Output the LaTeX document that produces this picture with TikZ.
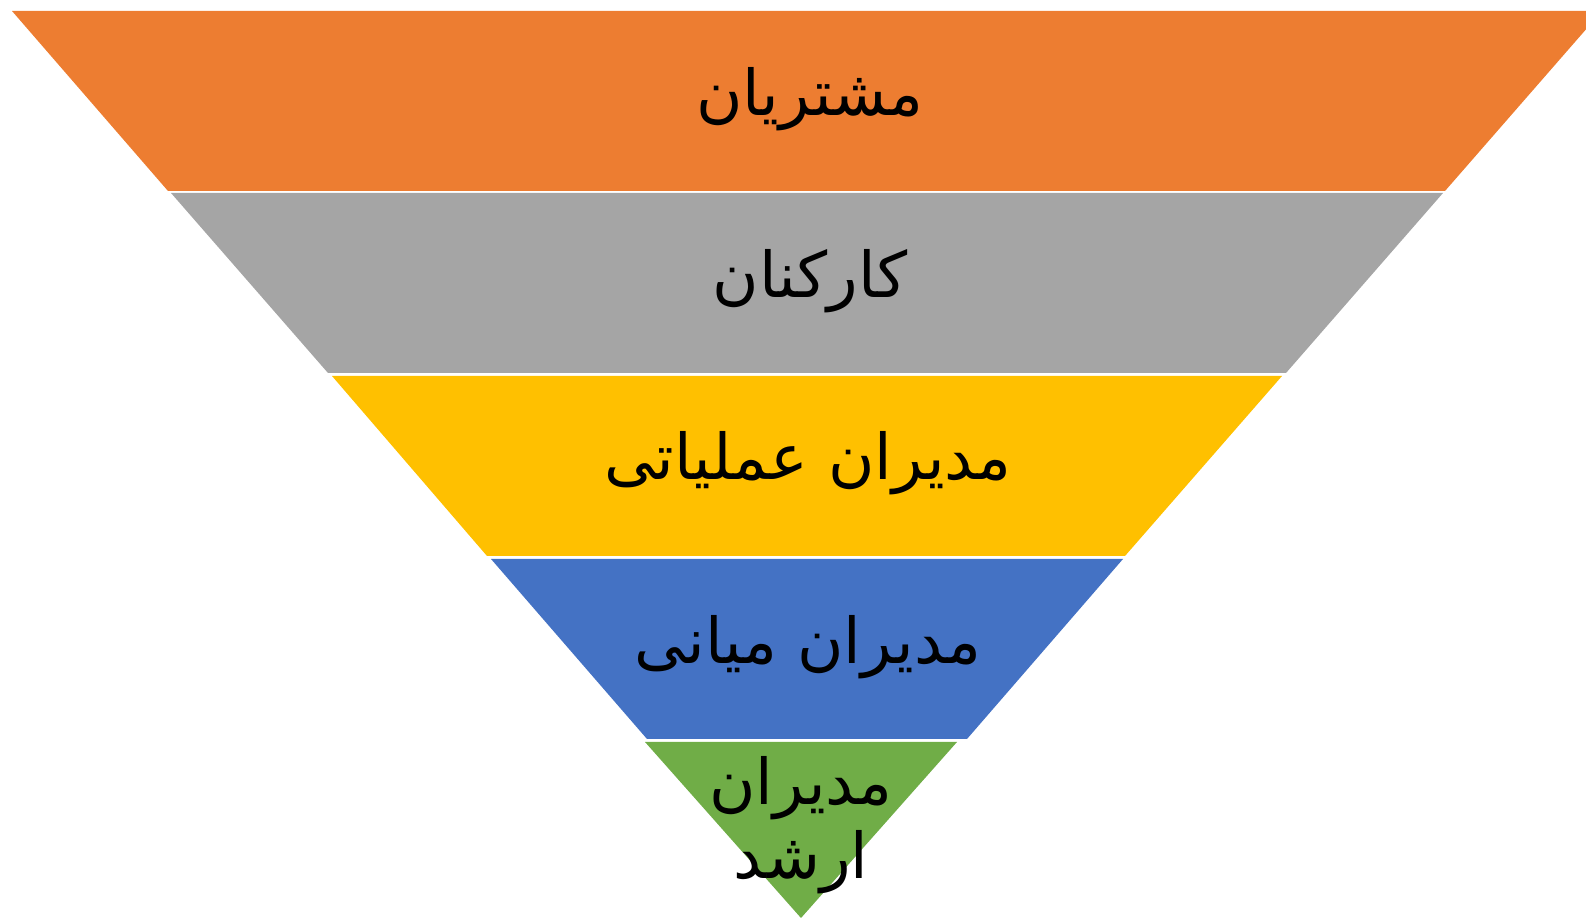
\documentclass[tikz,border=0pt]{standalone}
\usepackage{fontspec}
\usepackage{tikz}
\TeXXeTstate=1
\newfontfamily\arabicfont[Script=Arabic]{DejaVu Sans}

\definecolor{tierorange}{HTML}{ED7D31}
\definecolor{tiergray}{HTML}{A5A5A5}
\definecolor{tiergold}{HTML}{FFC000}
\definecolor{tierblue}{HTML}{4472C4}
\definecolor{tiergreen}{HTML}{70AD47}

\begin{document}
\begin{tikzpicture}[
    x=0.1mm, y=-0.1mm,
    band/.style={draw=none},
    word/.style={font=\arabicfont\fontsize{18}{21}\selectfont, text=black, align=center, inner sep=0pt},
]
\useasboundingbox (0,0) rectangle (1586,918);
\clip (0,0) rectangle (1586,918);

% Bands (top to bottom)
\fill[band, tierorange] (12,11) -- (1602,11) -- (1445,191) -- (168,191) -- cycle;
\fill[band, tiergray] (171,193) -- (1443,193) -- (1286,373) -- (328,373) -- cycle;
\fill[band, tiergold] (332,376) -- (1282,376) -- (1125,556) -- (487,556) -- cycle;
\fill[band, tierblue] (491,559) -- (1123,559) -- (967,739) -- (647,739) -- cycle;
\fill[band, tiergreen] (645,742) -- (957,742) -- (801,918) -- cycle;

% Labels
\node[word] (customers) at (810,99) {\beginR مشتریان\endR};
\node[word] (staff) at (810,281) {\beginR کارکنان\endR};
\node[word] (opmgr) at (808,463) {\beginR مدیران عملیاتی\endR};
\node[word] (midmgr) at (808,647) {\beginR مدیران میانی\endR};
\node[word] (topmgr) at (801,825) {\beginR مدیران\endR\\\beginR ارشد\endR};

\end{tikzpicture}
\end{document}
